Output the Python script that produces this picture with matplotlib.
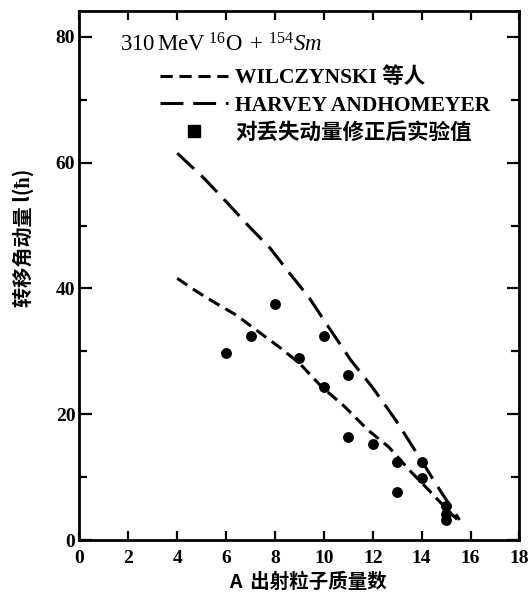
import matplotlib
matplotlib.use("Agg")
import matplotlib.pyplot as plt
from matplotlib.lines import Line2D
from matplotlib.ticker import MultipleLocator

plt.rcParams["mathtext.fontset"] = "custom"
plt.rcParams["mathtext.rm"] = "Liberation Serif"
plt.rcParams["mathtext.it"] = "Liberation Serif:italic"
plt.rcParams["mathtext.bf"] = "Liberation Serif:bold"

# --- data ---
wil_x = [4.0, 4.8, 5.6, 6.4, 7.4, 8.2, 9.0, 9.9, 10.85, 11.8, 12.65, 13.5, 14.3, 15.2, 15.45]
wil_y = [41.6, 39.5, 37.6, 35.8, 32.9, 30.6, 28.1, 24.4, 21.2, 17.5, 14.8, 11.1, 7.9, 4.2, 3.3]

har_x = [4.0, 5.1, 6.0, 7.0, 7.8, 8.6, 9.4, 10.2, 11.1, 12.0, 12.95, 13.9, 14.75, 15.55]
har_y = [61.5, 57.5, 53.8, 49.6, 46.4, 42.4, 38.5, 33.8, 28.6, 24.2, 19.0, 13.2, 7.9, 3.2]

exp_x = [6, 7, 8, 9, 10, 10, 11, 11, 12, 13, 13, 14, 14, 15, 15, 15]
exp_y = [29.8, 32.4, 37.5, 29.0, 32.4, 24.4, 26.3, 16.4, 15.3, 12.4, 7.6, 12.4, 9.8, 5.4, 4.2, 3.2]

x_ticks = [0, 2, 4, 6, 8, 10, 12, 14, 16, 18]
y_ticks = [0, 20, 40, 60, 80]

title_txt = "310$\\,$MeV$\\;^{16}$O$\\;+\\,^{154}$$\\mathit{Sm}$"
leg_labels = ["WILCZYNSKI 等人", "HARVEY ANDHOMEYER", "对丢失动量修正后实验值"]
xlabel = "A  出射粒子质量数"
ylabel = "转移角动量 l(ħ)"

serif = ["Liberation Serif", "Noto Sans CJK SC", "DejaVu Sans"]
cjk = ["Noto Sans CJK SC", "Liberation Serif", "DejaVu Sans"]

fig = plt.figure(figsize=(5.32, 5.95), dpi=100)
ax = fig.add_axes([0.1494, 0.0924, 0.827, 0.889])

l1, = ax.plot(wil_x, wil_y, color="black", lw=2.2, dashes=(4.0, 2.2))
l2, = ax.plot(har_x, har_y, color="black", lw=2.2, dashes=(7.5, 3.2))
ax.plot(exp_x, exp_y, "o", color="black", ms=6.8, ls="none")
h3 = Line2D([], [], marker="s", color="black", ms=8, ls="none")

ax.set_xlim(0, 18)
ax.set_ylim(0, 84.1)
ax.set_xticks(x_ticks)
ax.set_yticks(y_ticks)
ax.yaxis.set_minor_locator(MultipleLocator(10))
ax.tick_params(which="both", direction="in", top=True, right=True, width=1.6)
ax.tick_params(axis="y", which="major", length=9, pad=3)
ax.tick_params(axis="y", which="minor", length=6)
ax.tick_params(axis="x", which="major", length=6.5, pad=7)
for s in ax.spines.values():
    s.set_linewidth(2.0)

for lab in ax.get_xticklabels() + ax.get_yticklabels():
    lab.set_fontfamily(serif)
    lab.set_fontsize(14)
    lab.set_fontweight("bold")

ax.set_xlabel(xlabel, family=cjk, fontsize=14, fontweight="bold")
ax.xaxis.set_label_coords(0.52, -0.079)
ax.set_ylabel(ylabel, family=cjk, fontsize=14.5, fontweight="bold")
ax.yaxis.set_label_coords(-0.128, 0.571)
ax.yaxis.label.set_va("center")
ax.xaxis.label.set_va("center")

ax.text(0.092, 0.936, title_txt, transform=ax.transAxes, family=serif,
        fontsize=16.5, va="center", ha="left")

leg = ax.legend([l1, l2, h3], leg_labels, loc="upper left",
                bbox_to_anchor=(0.183, 0.893), frameon=False,
                borderpad=0, borderaxespad=0,
                handlelength=3.16, handletextpad=0.33, labelspacing=0.33,
                prop={"family": serif, "size": 15.5})
for t in leg.get_texts():
    t.set_fontweight("bold")

fig.savefig("out.png", dpi=100)
